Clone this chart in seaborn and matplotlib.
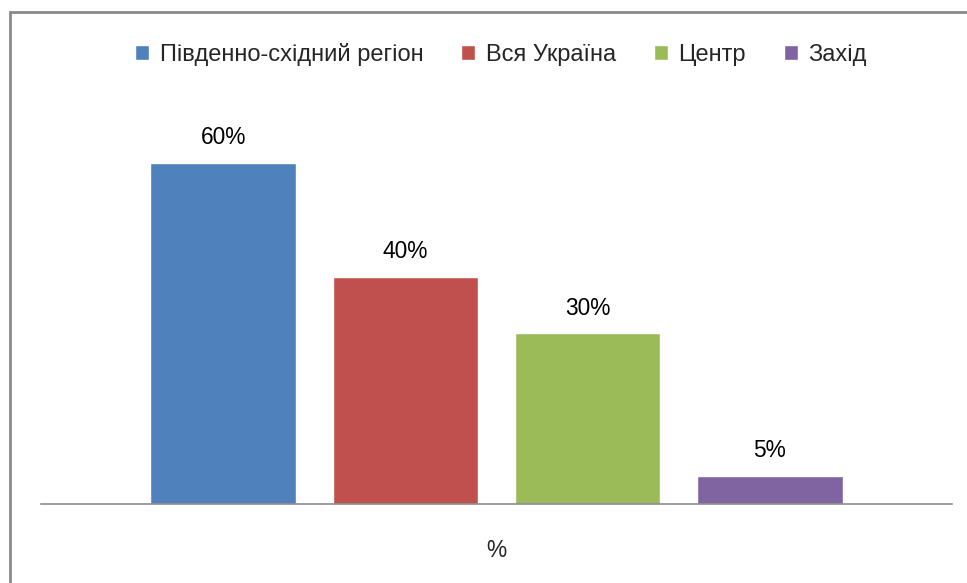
import numpy as np
import pandas as pd
import matplotlib
matplotlib.use("Agg")
import matplotlib.pyplot as plt
import seaborn as sns
from matplotlib.patches import Rectangle

# data
regions = ["Південно-східний регіон", "Вся Україна", "Центр", "Захід"]
values = [60, 40, 30, 5]
category = ["%", "%", "%", "%"]
colors = ["#4F81BD", "#C0504D", "#9BBB59", "#8064A2"]

df = pd.DataFrame({"cat": category, "region": regions, "value": values})

sns.set_style("white")
plt.rcParams["font.family"] = ["Liberation Sans", "DejaVu Sans"]
legend_fs = 17
label_fs = 16.4

W, H = 967, 583
fig = plt.figure(figsize=(W / 100, H / 100), dpi=100)
# plot area in pixels: left 41, right 952, baseline 504, top 106
ax = fig.add_axes([41 / W, 1 - 504 / H, (952 - 41) / W, (504 - 106) / H])

sns.barplot(
    data=df, x="cat", y="value", hue="region", hue_order=regions,
    palette=colors, width=0.8, gap=0.2, saturation=1, ax=ax, legend=True,
)
ax.set_ylim(0, 70)
ax.set_xlim(-0.5, 0.5)

for cont in ax.containers:
    ax.bar_label(cont, labels=[f"{v:.0f}%" for v in cont.datavalues],
                 padding=10, fontsize=label_fs, color="#000000")

for s in ["top", "right", "left"]:
    ax.spines[s].set_visible(False)
ax.spines["bottom"].set_color("#8c8c8c")
ax.spines["bottom"].set_linewidth(1.2)
ax.set_yticks([])
ax.set_ylabel("")
ax.set_xlabel("")
ax.tick_params(axis="x", length=0, pad=25, labelsize=label_fs)

handles, labels = ax.get_legend_handles_labels()
ax.legend_.remove()
fig.legend(handles, labels, loc="center", bbox_to_anchor=(501 / W, 1 - 54 / H),
           ncol=4, frameon=False, fontsize=legend_fs, handlelength=0.6,
           handleheight=0.6, handletextpad=0.45, columnspacing=1.6)

# outer chart border (cut off on the right and bottom)
fig.patches.append(Rectangle((10 / W, -0.05), 1.1, 1 - 12 / H + 0.05,
                             transform=fig.transFigure, fill=False,
                             edgecolor="#8a8a8a", linewidth=2))

fig.savefig("out.png", dpi=100, facecolor="white")
